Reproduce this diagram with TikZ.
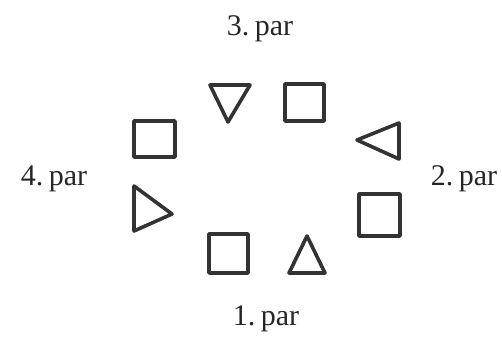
\documentclass[tikz,border=0pt]{standalone}
\usepackage{fontspec}
\setmainfont{Liberation Serif}
\begin{document}
\begin{tikzpicture}[x=1pt,y=-1pt,
  shp/.style={draw=black!80,line width=3.6pt,line join=round,line cap=round},
  lbl/.style={anchor=base,inner sep=0pt,font=\fontsize{30}{32}\selectfont,text=black!85}]
\useasboundingbox (0,0) rectangle (502,337);
% labels
\node[lbl] (p3) at (260,35) {3.\hspace{0.18em}par};
\node[lbl] (p4) at (54,185) {4.\hspace{0.18em}par};
\node[lbl] (p2) at (464,185) {2.\hspace{0.18em}par};
\node[lbl] (p1) at (266,325) {1.\hspace{0.18em}par};
% shapes
\draw[shp] (210,85) -- (250,85) -- (228,122) -- cycle;
\draw[shp] (285,84) rectangle (324,121);
\draw[shp] (357,140) -- (399,123) -- (399,159) -- cycle;
\draw[shp] (134,121) rectangle (175,157);
\draw[shp] (134,186) -- (172,214) -- (134,231) -- cycle;
\draw[shp] (359,194) rectangle (400,236);
\draw[shp] (209,234) rectangle (248,273);
\draw[shp] (307,236) -- (325,273) -- (289,273) -- cycle;
\end{tikzpicture}
\end{document}
